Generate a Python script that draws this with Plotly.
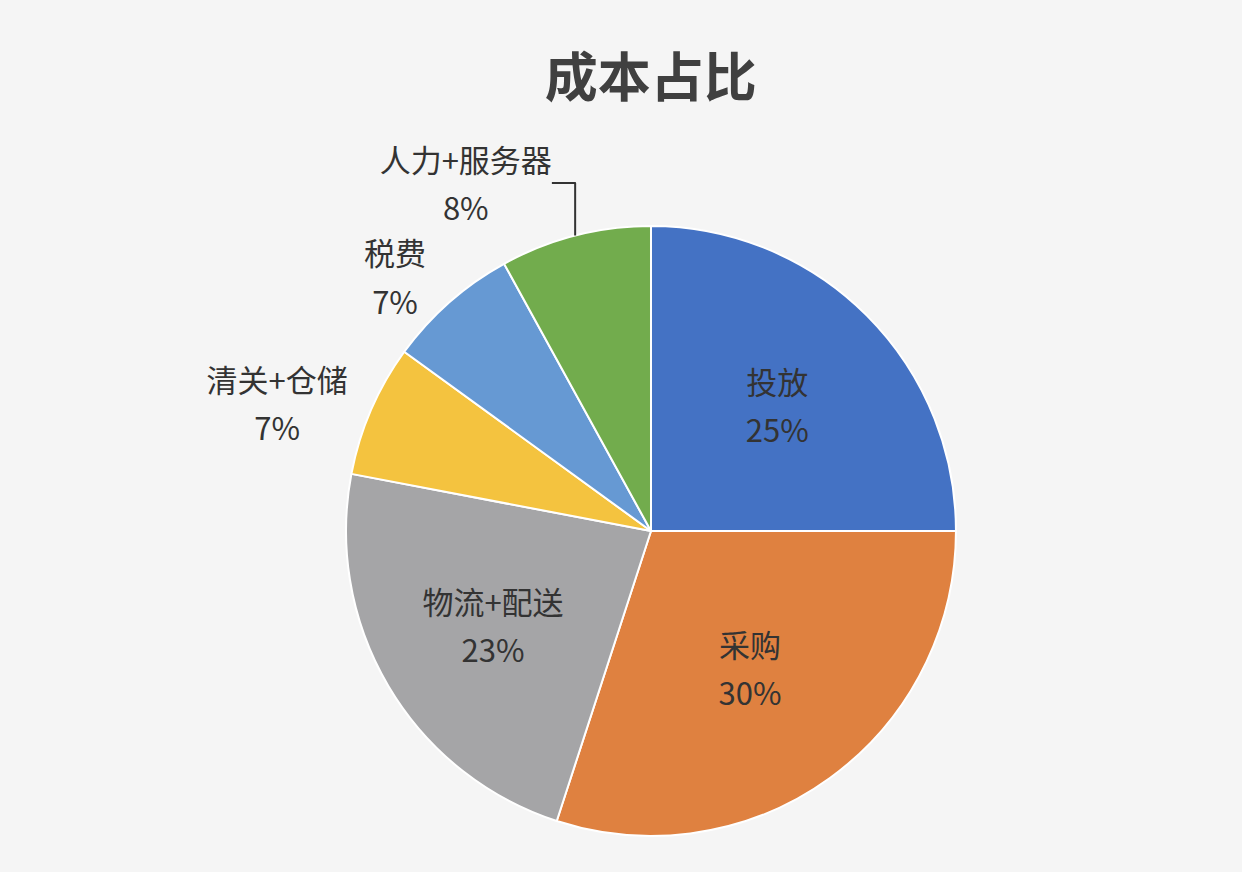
import plotly.graph_objects as go

# cost share data
labels = ["投放", "采购", "物流+配送", "清关+仓储", "税费", "人力+服务器"]
values = [25, 30, 23, 7, 7, 8]
colors = ["#4472C4", "#DF8140", "#A5A5A7", "#F4C33F", "#6699D3", "#72AC4D"]
text_pos = ["inside", "inside", "inside", "outside", "outside", "outside"]

# big base font gives the wide line spacing, spans keep the glyphs smaller
span = "<span style='font-size:31px'>{}</span>"
template = span.format("%{label}") + "<br>" + span.format("%{percent:.0%}")

fig = go.Figure()
fig.add_trace(
    go.Pie(
        labels=labels,
        values=values,
        sort=False,
        direction="clockwise",
        rotation=0,
        marker=dict(colors=colors, line=dict(color="white", width=2)),
        texttemplate=template,
        textposition=text_pos,
        insidetextorientation="horizontal",
        textfont=dict(size=37, color="#333333"),
        showlegend=False,
        hoverinfo="label+percent",
        domain=dict(x=[0.2786, 0.7697], y=[0.0413, 0.7408]),
    )
)

fig.update_layout(
    width=1242,
    height=872,
    margin=dict(l=0, r=0, t=0, b=0),
    paper_bgcolor="#F5F5F5",
    plot_bgcolor="#F5F5F5",
    font=dict(family="Noto Sans CJK SC", color="#333333"),
    title=dict(
        text="<b>成本占比</b>",
        x=0.524,
        xanchor="center",
        y=0.91,
        yanchor="middle",
        font=dict(size=53, color="#404040", family="Noto Sans CJK SC"),
    ),
)

# drop the page's default body margin so the figure fills the window
fig.write_html(
    "out.html",
    config={"displayModeBar": False},
    post_script="document.body.style.margin='0';",
)
